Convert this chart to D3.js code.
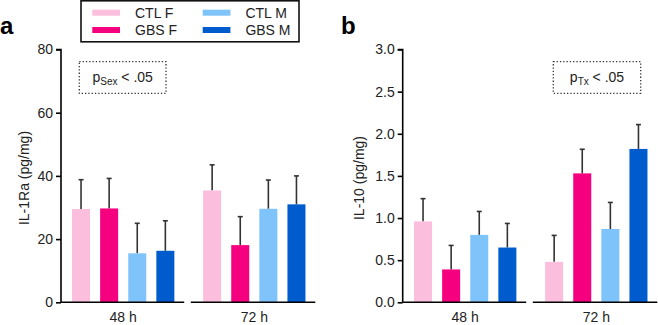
<!DOCTYPE html>
<html><head><meta charset="utf-8">
<script src="https://cdn.jsdelivr.net/npm/d3@7"></script>
<style>
body{margin:0;background:#fff;}
text{font-family:"Liberation Sans",Arial,sans-serif;}
</style></head>
<body>
<svg id="c" width="658" height="325"></svg>
<script>
const groups = ["48 h", "72 h"];
const series = ["CTL F", "GBS F", "CTL M", "GBS M"];
const colors = ["#fbbedd", "#f5007e", "#7fc3fb", "#005bcd"];
// panel a: IL-1Ra (pg/mg)
const il1raMean = [[29.5, 29.7, 15.5, 16.3], [35.4, 18.1, 29.6, 31.0]];
const il1raErr  = [[38.8, 39.2, 25.0, 25.8], [43.5, 27.1, 38.7, 40.0]];
const il1raTicks = [0, 20, 40, 60, 80];
// panel b: IL-10 (pg/mg)
const il10Mean = [[0.96, 0.39, 0.80, 0.65], [0.48, 1.53, 0.87, 1.82]];
const il10Err  = [[1.23, 0.675, 1.078, 0.936], [0.794, 1.816, 1.185, 2.109]];
const il10Ticks = [0, 0.5, 1.0, 1.5, 2.0, 2.5, 3.0];

const svg = d3.select("#c");

function panel(o){
  const g = svg.append("g");
  const y = d3.scaleLinear().domain(o.domain).range([302.3, 49.5]);
  const half = 65.55;
  const gx = d3.scaleBand().domain(groups).range([o.c0 - half, o.c0 + 3*half]);
  const bx = d3.scaleBand().domain(series).range([0, gx.bandwidth()]).paddingInner(0.359).paddingOuter(0.512);
  // y axis
  const ax = d3.axisLeft(y).tickValues(o.ticks).tickSize(5).tickPadding(3).tickFormat(o.fmt);
  const ag = g.append("g").attr("transform", `translate(${o.axisX},0)`).call(ax);
  ag.select(".domain").attr("stroke","#000").attr("stroke-width",1.6).attr("d", `M-5,${y(o.domain[1])}H0V${y(0)}`);
  ag.selectAll(".tick line").attr("stroke","#000").attr("stroke-width",1.6);
  ag.selectAll(".tick text").attr("font-size",14).attr("fill","#222").attr("font-family","Liberation Sans, Arial, sans-serif");
  // bars
  groups.forEach((gr, gi) => {
    const x0 = gx(gr);
    series.forEach((s, si) => {
      const bxv = x0 + bx(s);
      const m = o.mean[gi][si], e = o.err[gi][si];
      const cx = bxv + bx.bandwidth()/2;
      g.append("line").attr("x1",cx).attr("x2",cx).attr("y1",y(m)).attr("y2",y(e))
        .attr("stroke","#333").attr("stroke-width",1.6);
      g.append("line").attr("x1",cx-2.5).attr("x2",cx+2.5).attr("y1",y(e)).attr("y2",y(e))
        .attr("stroke","#333").attr("stroke-width",1.6);
      g.append("rect").attr("x",bxv).attr("y",y(m)).attr("width",bx.bandwidth()).attr("height",y(0)-y(m))
        .attr("fill",colors[si]);
    });
    // baseline segment
    const cxg = x0 + gx.bandwidth()/2;
    const left = gi === 0 ? o.axisX : cxg - 63.5;
    const right = cxg + 61;
    g.append("line").attr("x1",left).attr("x2",right).attr("y1",y(0)).attr("y2",y(0))
      .attr("stroke","#000").attr("stroke-width",1.6);
    g.append("text").attr("x",cxg).attr("y",322).attr("text-anchor","middle")
      .attr("font-size",14).attr("fill","#222").text(gr);
  });
  // y title
  g.append("text").attr("transform",`translate(${o.titleX},178) rotate(-90)`).attr("text-anchor","middle")
    .attr("font-size",14).attr("fill","#222").text(o.title);
  // panel letter
  g.append("text").attr("x",o.letterX).attr("y",34).attr("font-size",24).attr("font-weight","bold")
    .attr("fill","#000").text(o.letter);
  // p box
  g.append("rect").attr("x",o.px).attr("y",61.7).attr("width",o.pw).attr("height",31.6)
    .attr("fill","none").attr("stroke","#333").attr("stroke-width",1.3).attr("stroke-dasharray","1.3,2");
  const t = g.append("text").attr("x",o.px + o.pw/2).attr("y",82).attr("text-anchor","middle")
    .attr("font-size",14).attr("fill","#222");
  t.append("tspan").text("p");
  t.append("tspan").attr("font-size",10).attr("dy",3).text(o.sub);
  t.append("tspan").attr("dy",-3).text(" < .05");
}

panel({domain:[0,80], ticks:il1raTicks, fmt:d3.format("d"), axisX:61, c0:123.2,
  mean:il1raMean, err:il1raErr, title:"IL-1Ra (pg/mg)", titleX:29, letter:"a", letterX:0,
  px:79.3, pw:86.7, sub:"Sex"});
panel({domain:[0,3], ticks:il10Ticks, fmt:d3.format(".1f"), axisX:402.7, c0:465.2,
  mean:il10Mean, err:il10Err, title:"IL-10 (pg/mg)", titleX:364, letter:"b", letterX:341,
  px:553.3, pw:87.4, sub:"Tx"});

// legend
const lg = svg.append("g");
lg.append("rect").attr("x",81).attr("y",0.8).attr("width",218).attr("height",41)
  .attr("fill","#fff").attr("stroke","#111").attr("stroke-width",1.6);
const lpos = [[92.3,12.7],[92.3,30],[202.7,12.7],[202.7,30]];
series.forEach((s,i) => {
  const [lx,ly] = lpos[i];
  lg.append("rect").attr("x",lx).attr("y",ly-3).attr("width",27.7).attr("height",6).attr("fill",colors[i]);
  lg.append("text").attr("x",lx+42.7).attr("y",ly+5).attr("font-size",14).attr("fill","#222").text(s);
});
</script>
</body></html>
